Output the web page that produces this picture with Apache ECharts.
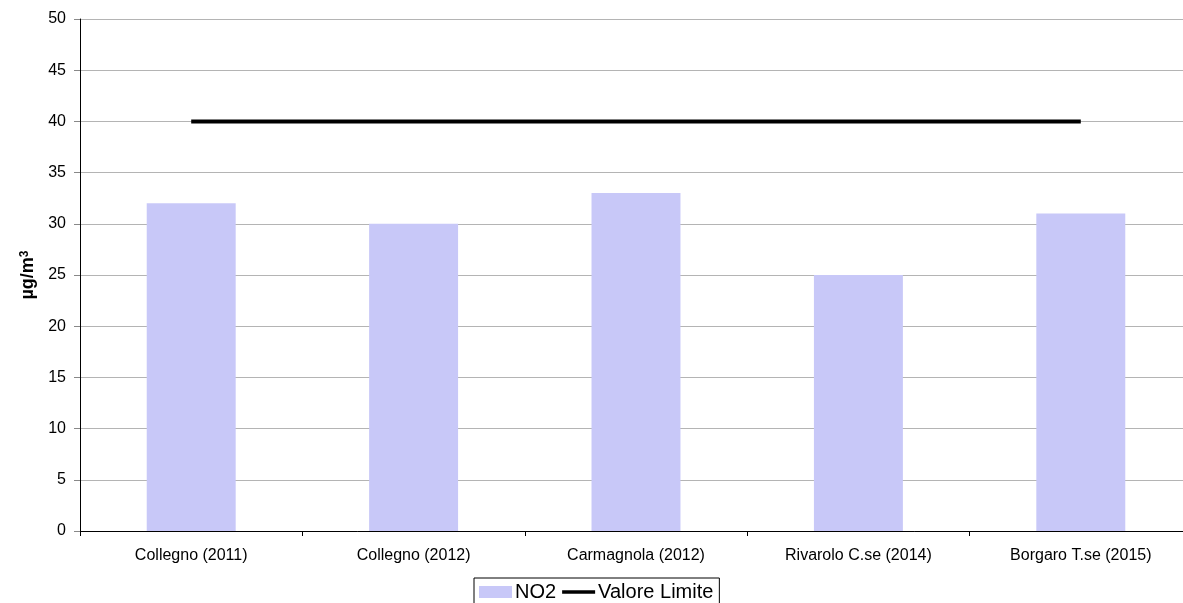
<!DOCTYPE html>
<html><head><meta charset="utf-8">
<script src="https://cdn.jsdelivr.net/npm/echarts@6/dist/echarts.min.js"></script>
<style>html,body{margin:0;padding:0;background:#fff;overflow:hidden;width:1183px;height:603px}#c{width:1192px;height:603px}</style>
</head><body><div id="c"></div>
<script>
const categories = ['Collegno (2011)', 'Collegno (2012)', 'Carmagnola (2012)', 'Rivarolo C.se (2014)', 'Borgaro T.se (2015)'];
const no2 = [32, 30, 33, 25, 31];
const limite = [40, 40, 40, 40, 40];
const yTicks = { min: 0, max: 50, interval: 5 };

const chart = echarts.init(document.getElementById('c'));
chart.setOption({
  animation: false,
  grid: { left: 80, right: 0, top: 19, bottom: 72, containLabel: false },
  legend: {
    top: 578, left: 474,
    data: [{ name: 'NO2', icon: 'rect' }, { name: 'Valore Limite', icon: 'path://M0,4 L30,4 L30,7 L0,7 Z' }],
    itemWidth: 33, itemHeight: 12, itemGap: 6,
    borderColor: '#000', borderWidth: 1, padding: [4, 6, 6, 5],
    textStyle: { fontFamily: 'Liberation Sans, Arial', fontSize: 20, color: '#000', padding: [0,0,0,-2] }
  },
  xAxis: {
    type: 'category', data: categories,
    axisLine: { lineStyle: { color: '#000', width: 1 } },
    axisTick: { show: true, alignWithLabel: false, length: 5, lineStyle: { color: '#000' } },
    axisLabel: { fontFamily: 'Liberation Sans, Arial', fontSize: 16, color: '#000', margin: 17 }
  },
  yAxis: {
    type: 'value', min: yTicks.min, max: yTicks.max, interval: yTicks.interval,
    name: '{a|µg/m}{b|3}', nameLocation: 'middle', nameGap: 40, nameRotate: 90,
    nameTextStyle: {
      fontFamily: 'Liberation Sans, Arial', fontSize: 18, fontWeight: 'bold', color: '#000',
      rich: {
        a: { fontFamily: 'Liberation Sans, Arial', fontSize: 18, fontWeight: 'bold', color: '#000' },
        b: { fontFamily: 'Liberation Sans, Arial', fontSize: 12, fontWeight: 'bold', color: '#000', verticalAlign: 'top', padding: [0, 0, 8, 0] }
      }
    },
    axisLine: { show: true, lineStyle: { color: '#000' } },
    axisTick: { show: true, length: 6, lineStyle: { color: '#888' } },
    axisLabel: { fontFamily: 'Liberation Sans, Arial', fontSize: 16, color: '#000', margin: 14 },
    splitLine: { lineStyle: { color: '#b4b4b4', width: 1 } }
  },
  series: [
    { name: 'NO2', type: 'bar', data: no2, barWidth: '40%', itemStyle: { color: '#c8c8f8' } },
    { name: 'Valore Limite', type: 'line', data: limite, symbol: 'none', lineStyle: { color: '#000', width: 4 }, itemStyle: { color: '#000' }, z: 5 }
  ]
});
</script></body></html>
